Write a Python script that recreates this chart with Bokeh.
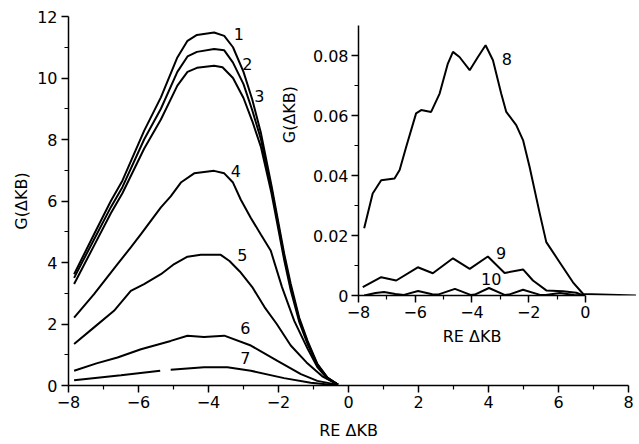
import math
from bokeh.plotting import figure
from bokeh.models import FixedTicker, GridBox, LinearAxis
from bokeh.core.properties import value
from bokeh.embed import file_html
from bokeh.resources import INLINE

FONT = "DejaVu Sans"

# ---------------- main chart data ----------------
x1 = [-7.84, -7.27, -6.79, -6.46, -5.84, -5.36, -4.89, -4.6, -4.33, -3.84, -3.55, -3.3, -3.0, -2.75, -2.5, -2.2, -1.84, -1.65, -1.41, -1.17, -0.89, -0.6, -0.3]
y1 = [3.62, 4.92, 6.0, 6.66, 8.28, 9.37, 10.67, 11.21, 11.40, 11.48, 11.37, 11.0, 10.2, 9.3, 8.2, 6.5, 4.3, 3.3, 2.21, 1.45, 0.70, 0.26, 0.03]
x2 = [-7.84, -7.27, -6.79, -6.46, -5.84, -5.36, -4.89, -4.6, -4.33, -3.84, -3.55, -3.3, -3.0, -2.75, -2.5, -2.2, -1.84, -1.65, -1.41, -1.17, -0.89, -0.6, -0.3]
y2 = [3.5, 4.75, 5.8, 6.45, 8.0, 9.0, 10.2, 10.7, 10.85, 10.94, 10.9, 10.5, 9.8, 8.95, 8.0, 6.4, 4.2, 3.2, 2.15, 1.4, 0.68, 0.25, 0.03]
x3 = [-7.84, -7.27, -6.79, -6.46, -5.84, -5.36, -4.89, -4.6, -4.33, -3.84, -3.6, -3.3, -3.0, -2.75, -2.5, -2.2, -1.84, -1.65, -1.41, -1.17, -0.89, -0.6, -0.3]
y3 = [3.3, 4.55, 5.6, 6.25, 7.7, 8.65, 9.75, 10.2, 10.33, 10.40, 10.35, 10.0, 9.35, 8.6, 7.75, 6.25, 4.1, 3.1, 2.08, 1.35, 0.65, 0.24, 0.03]
x4 = [-7.84, -7.27, -6.6, -6.22, -5.93, -5.36, -5.08, -4.79, -4.41, -3.84, -3.55, -3.3, -3.08, -2.79, -2.5, -2.22, -1.9, -1.55, -1.17, -0.89, -0.6, -0.3]
y4 = [2.21, 2.97, 3.95, 4.49, 4.92, 5.79, 6.15, 6.6, 6.9, 6.98, 6.9, 6.6, 6.05, 5.45, 4.9, 4.38, 3.2, 2.1, 1.2, 0.6, 0.22, 0.03]
x5 = [-7.84, -7.27, -6.7, -6.22, -5.84, -5.36, -4.98, -4.6, -4.22, -3.65, -3.4, -3.1, -2.75, -2.4, -2.05, -1.65, -1.2, -0.75, -0.3]
y5 = [1.35, 1.89, 2.43, 3.08, 3.30, 3.62, 3.95, 4.19, 4.25, 4.25, 4.05, 3.7, 3.2, 2.55, 2.0, 1.3, 0.75, 0.3, 0.03]
x6 = [-7.84, -7.2, -6.6, -5.93, -5.08, -4.6, -4.13, -3.55, -2.79, -2.03, -1.36, -0.89, -0.3]
y6 = [0.48, 0.72, 0.91, 1.18, 1.45, 1.62, 1.58, 1.62, 1.3, 0.8, 0.37, 0.15, 0.02]
x7 = [-7.84, -6.5, -5.38, float("nan"), -5.08, -4.13, -3.46, -2.79, -1.84, -1.08, -0.3]
y7 = [0.17, 0.33, 0.48, float("nan"), 0.51, 0.59, 0.59, 0.48, 0.24, 0.09, 0.0]

main_label_text = ["1", "2", "3", "4", "5", "6", "7"]
main_label_x = [-3.13, -2.89, -2.55, -3.22, -3.03, -2.95, -2.95]
main_label_y = [11.44, 10.45, 9.42, 6.98, 4.26, 1.88, 0.9]

main_xticks = [-8, -6, -4, -2, 0, 2, 4, 6, 8]
main_xminor = [-7, -5, -3, -1, 1, 3, 5, 7]
main_yticks = [0, 2, 4, 6, 8, 10, 12]
main_yminor = [1, 3, 5, 7, 9, 11]

# ---------------- inset data ----------------
x8 = [-7.8, -7.5, -7.2, -6.73, -6.55, -6.32, -5.97, -5.79, -5.44, -5.14, -4.85, -4.67, -4.44, -4.08, -3.79, -3.52, -3.26, -2.97, -2.79, -2.44, -2.2, -1.97, -1.61, -1.38, -0.91, -0.44, -0.08, 1.8]
y8 = [0.0224, 0.034, 0.0384, 0.039, 0.0418, 0.0495, 0.0607, 0.0618, 0.0612, 0.0673, 0.0773, 0.0812, 0.0795, 0.0751, 0.0795, 0.0834, 0.0784, 0.0673, 0.0612, 0.0568, 0.0518, 0.0429, 0.0273, 0.0178, 0.0111, 0.0044, 0.0005, 0.0]
x9 = [-7.85, -7.2, -6.67, -5.91, -5.38, -4.67, -4.08, -3.44, -2.85, -2.2, -1.85, -1.38, -0.79, -0.32, -0.08]
y9 = [0.0028, 0.0061, 0.005, 0.0094, 0.0074, 0.0124, 0.0089, 0.013, 0.0075, 0.0087, 0.005, 0.0017, 0.0014, 0.0009, 0.0]
x10 = [-7.8, -7.4, -7.1, -6.7, -6.4, -5.9, -5.4, -5.2, -4.6, -4.05, -3.9, -3.4, -2.85, -2.7, -2.2, -1.6, -1.4, -0.9, -0.4, -0.1]
y10 = [0.0, 0.0008, 0.0012, 0.0005, 0.0002, 0.0015, 0.0004, 0.0003, 0.0022, 0.0002, 0.0003, 0.0025, 0.0002, 0.0003, 0.0019, 0.0002, 0.0002, 0.0008, 0.0002, 0.0]

inset_label_text = ["8", "9", "10"]
inset_label_x = [-2.77, -2.97, -3.32]
inset_label_y = [0.079, 0.0142, 0.0055]

inset_xticks = [-8, -6, -4, -2, 0]
inset_xminor = [-7, -5, -3, -1]
inset_yticks = [0, 0.02, 0.04, 0.06, 0.08]
inset_yminor = [0.01, 0.03, 0.05, 0.07]

x_title = "RE ΔKB"
y_title = "G(ΔKB)"
# where the inset's titles sit, in the main chart's data units
inset_title_x = [3.53, -1.69]
inset_title_y = [1.59, 8.81]
inset_title_angle = [0.0, math.pi / 2]


def style_axis(ax, ticks, minor, standoff):
    ax.ticker = FixedTicker(ticks=ticks, minor_ticks=minor)
    ax.axis_line_width = 1.5
    ax.axis_line_color = "black"
    ax.major_tick_line_width = 1.5
    ax.minor_tick_line_width = 1.2
    ax.major_tick_line_color = "black"
    ax.minor_tick_line_color = "black"
    ax.major_tick_out = 7
    ax.major_tick_in = 0
    ax.minor_tick_out = 4
    ax.minor_tick_in = 0
    ax.major_label_text_font = FONT
    ax.major_label_text_font_size = "16px"
    ax.major_label_text_color = "black"
    ax.major_label_standoff = standoff


def title_axis(text, standoff):
    return LinearAxis(ticker=FixedTicker(ticks=[]),
                      axis_line_color=None, major_tick_line_color=None,
                      minor_tick_line_color=None, major_tick_out=0, major_tick_in=0,
                      minor_tick_out=0, minor_tick_in=0, major_label_standoff=0,
                      axis_label=text, axis_label_standoff=standoff,
                      axis_label_text_font=FONT, axis_label_text_font_size="16px",
                      axis_label_text_font_style="normal", axis_label_text_color="black")


# ---------------- main figure ----------------
p = figure(width=639, height=444, x_range=(-8, 8), y_range=(0, 12),
           output_backend="svg", toolbar_location=None,
           min_border_left=68, min_border_right=11, min_border_top=16, min_border_bottom=59)
p.frame_align = False
p.xgrid.visible = False
p.ygrid.visible = False
p.outline_line_color = None
p.background_fill_color = "white"
p.border_fill_color = "white"
style_axis(p.xaxis[0], main_xticks, main_xminor, 3)
style_axis(p.yaxis[0], main_yticks, main_yminor, 4)
p.add_layout(title_axis(x_title, 10), "below")
p.add_layout(title_axis(y_title, 4), "left")

for xs, ys in [(x1, y1), (x2, y2), (x3, y3), (x4, y4), (x5, y5), (x6, y6), (x7, y7)]:
    p.line(xs, ys, line_color="black", line_width=2)

p.text(x=main_label_x, y=main_label_y, text=main_label_text,
       text_font=value(FONT), text_font_size="16px", text_align="center",
       text_baseline="middle", text_color="black")

# titles of the inset (drawn on the main canvas, beneath the transparent inset)
p.text(x=inset_title_x, y=inset_title_y, text=[x_title, y_title], angle=inset_title_angle,
       text_font=value(FONT), text_font_size="16px", text_align="center",
       text_baseline="middle", text_color="black")

# ---------------- inset figure ----------------
q = figure(width=360, height=337, x_range=(-8, 1.8), y_range=(0, 0.09),
           output_backend="svg", toolbar_location=None,
           min_border_left=82, min_border_right=0, min_border_top=10, min_border_bottom=57)
q.frame_align = False
q.xgrid.visible = False
q.ygrid.visible = False
q.outline_line_color = None
q.background_fill_alpha = 0
q.border_fill_alpha = 0
style_axis(q.xaxis[0], inset_xticks, inset_xminor, 3)
style_axis(q.yaxis[0], inset_yticks, inset_yminor, 3)
q.xaxis[0].bounds = (-8, 0)
q.yaxis[0].bounds = (0, 0.09)
q.yaxis[0].major_label_overrides = {0: "0", 0.02: "0.02", 0.04: "0.04", 0.06: "0.06", 0.08: "0.08"}

for xs, ys in [(x8, y8), (x9, y9), (x10, y10)]:
    q.line(xs, ys, line_color="black", line_width=2)

q.text(x=inset_label_x, y=inset_label_y, text=inset_label_text,
       text_font=value(FONT), text_font_size="16px", text_align="center",
       text_baseline="middle", text_color="black")

q.margin = (15, 0, 0, 276)
q.align = "start"

layout = GridBox(children=[(p, 0, 0), (q, 0, 0)])

open("out.html", "w").write(file_html(layout, INLINE))
